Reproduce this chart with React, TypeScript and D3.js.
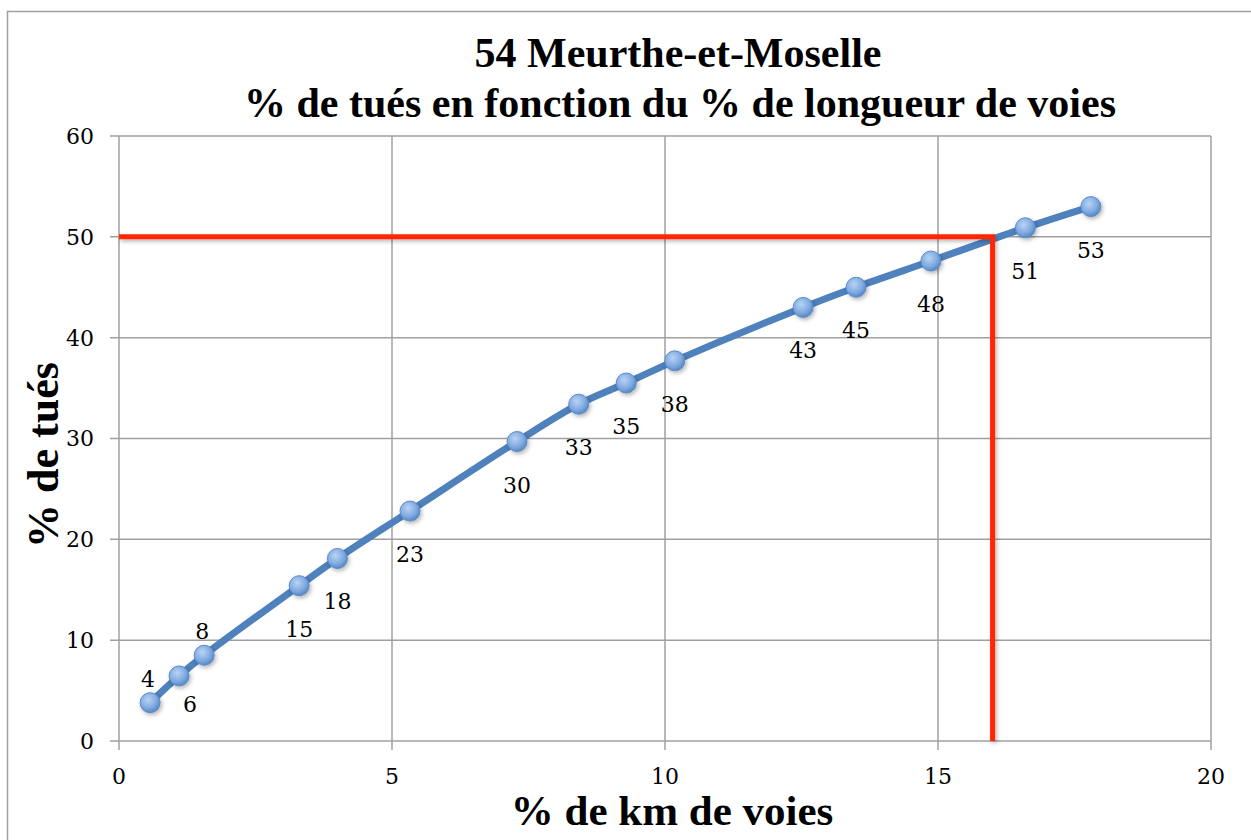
import React from "react"
import * as d3 from "d3"

const kmPct = [0.57, 1.1, 1.56, 3.3, 4.0, 5.33, 7.29, 8.42, 9.29, 10.18, 12.53, 13.5, 14.87, 16.6, 17.8]
const tuesPct = [3.8, 6.45, 8.5, 15.4, 18.1, 22.8, 29.7, 33.4, 35.5, 37.7, 43.0, 45.0, 47.6, 50.9, 53.0]
const labels = ["4", "6", "8", "15", "18", "23", "30", "33", "35", "38", "43", "45", "48", "51", "53"]
const labelPlacement = ["above", "belowRight", "above", "below", "below", "below", "below", "below", "below", "below", "below", "below", "below", "below", "below"]
const xTicks = [0, 5, 10, 15, 20]
const yTicks = [0, 10, 20, 30, 40, 50, 60]
const threshold = { x: 16, y: 50 }

const App = () => {
  const width = 1251
  const height = 840
  const margin = { top: 136, left: 119 }
  const innerWidth = 1211 - margin.left
  const innerHeight = 741 - margin.top

  const xScale = d3.scaleLinear().domain([0, 20]).range([0, innerWidth])
  const yScale = d3.scaleLinear().domain([0, 60]).range([innerHeight, 0])

  const points = kmPct.map((x, i) => [x, tuesPct[i]] as [number, number])
  const line = d3
    .line<[number, number]>()
    .x((d) => xScale(d[0]))
    .y((d) => yScale(d[1]))
    .curve(d3.curveCatmullRom.alpha(0.5))

  // label offsets (Excel-ish placement)
  const offset = (p: string) => {
    if (p === "above") return [-2, -16]
    if (p === "belowRight") return [11, 36]
    return [0, 51]
  }

  const serif = "'Liberation Serif', 'Times New Roman', serif"
  const tickFont = "'DejaVu Serif', serif"

  return (
    <svg width={width} height={height} style={{ position: "absolute", left: 0, top: 0, background: "#fff" }}>
      <defs>
        <radialGradient id="mk" cx="40%" cy="35%" r="70%">
          <stop offset="0%" stopColor="#b9d3f3" />
          <stop offset="60%" stopColor="#80aae1" />
          <stop offset="100%" stopColor="#4f81bd" />
        </radialGradient>
        <filter id="sh" x="-50%" y="-50%" width="200%" height="200%">
          <feDropShadow dx="1.5" dy="2" stdDeviation="2" floodColor="#000" floodOpacity="0.3" />
        </filter>
      </defs>
      <rect x={7.5} y={11.5} width={1300} height={900} fill="none" stroke="#a0a0a0" strokeWidth={1.5} />

      <text x={678} y={67} textAnchor="middle" fontFamily={serif} fontWeight="bold" fontSize={42}>
        54 Meurthe-et-Moselle
      </text>
      <text x={680} y={117} textAnchor="middle" fontFamily={serif} fontWeight="bold" fontSize={42}>
        % de tués en fonction du % de longueur de voies
      </text>

      <g transform={`translate(${margin.left}, ${margin.top})`}>
        {xTicks.map((t) => (
          <g key={"x" + t} transform={`translate(${xScale(t)}, 0)`}>
            <line y1={0} y2={innerHeight + 9} stroke="#a0a0a0" strokeWidth={1.5} />
            <text y={innerHeight + 43} textAnchor="middle" fontFamily={tickFont} fontSize={22}>
              {t}
            </text>
          </g>
        ))}
        {yTicks.map((t) => (
          <g key={"y" + t} transform={`translate(0, ${yScale(t)})`}>
            <line x1={-9} x2={innerWidth} stroke="#a0a0a0" strokeWidth={1.5} />
            <text x={-25} dy="0.36em" textAnchor="end" fontFamily={tickFont} fontSize={22}>
              {t}
            </text>
          </g>
        ))}

        <path d={line(points) || ""} fill="none" stroke="#4f81bd" strokeWidth={7} strokeLinecap="round" />

        <path
          d={`M${xScale(0)},${yScale(threshold.y)}H${xScale(threshold.x)}V${yScale(0)}`}
          fill="none"
          stroke="#ff2600"
          strokeWidth={5}
          filter="url(#sh)"
        />

        {points.map((d, i) => (
          <circle key={i} cx={xScale(d[0])} cy={yScale(d[1])} r={10} fill="url(#mk)" stroke="#5a8bcb" strokeWidth={1} filter="url(#sh)" />
        ))}
        {points.map((d, i) => {
          const [dx, dy] = offset(labelPlacement[i])
          return (
            <text key={"l" + i} x={xScale(d[0]) + dx} y={yScale(d[1]) + dy} textAnchor="middle" fontFamily={tickFont} fontSize={22}>
              {labels[i]}
            </text>
          )
        })}
      </g>

      <text x={672} y={825} textAnchor="middle" fontFamily={serif} fontWeight="bold" fontSize={43}>
        % de km de voies
      </text>
      <text transform="translate(58, 455) rotate(-90)" textAnchor="middle" fontFamily={serif} fontWeight="bold" fontSize={44}>
        % de tués
      </text>
    </svg>
  )
}

export default App
